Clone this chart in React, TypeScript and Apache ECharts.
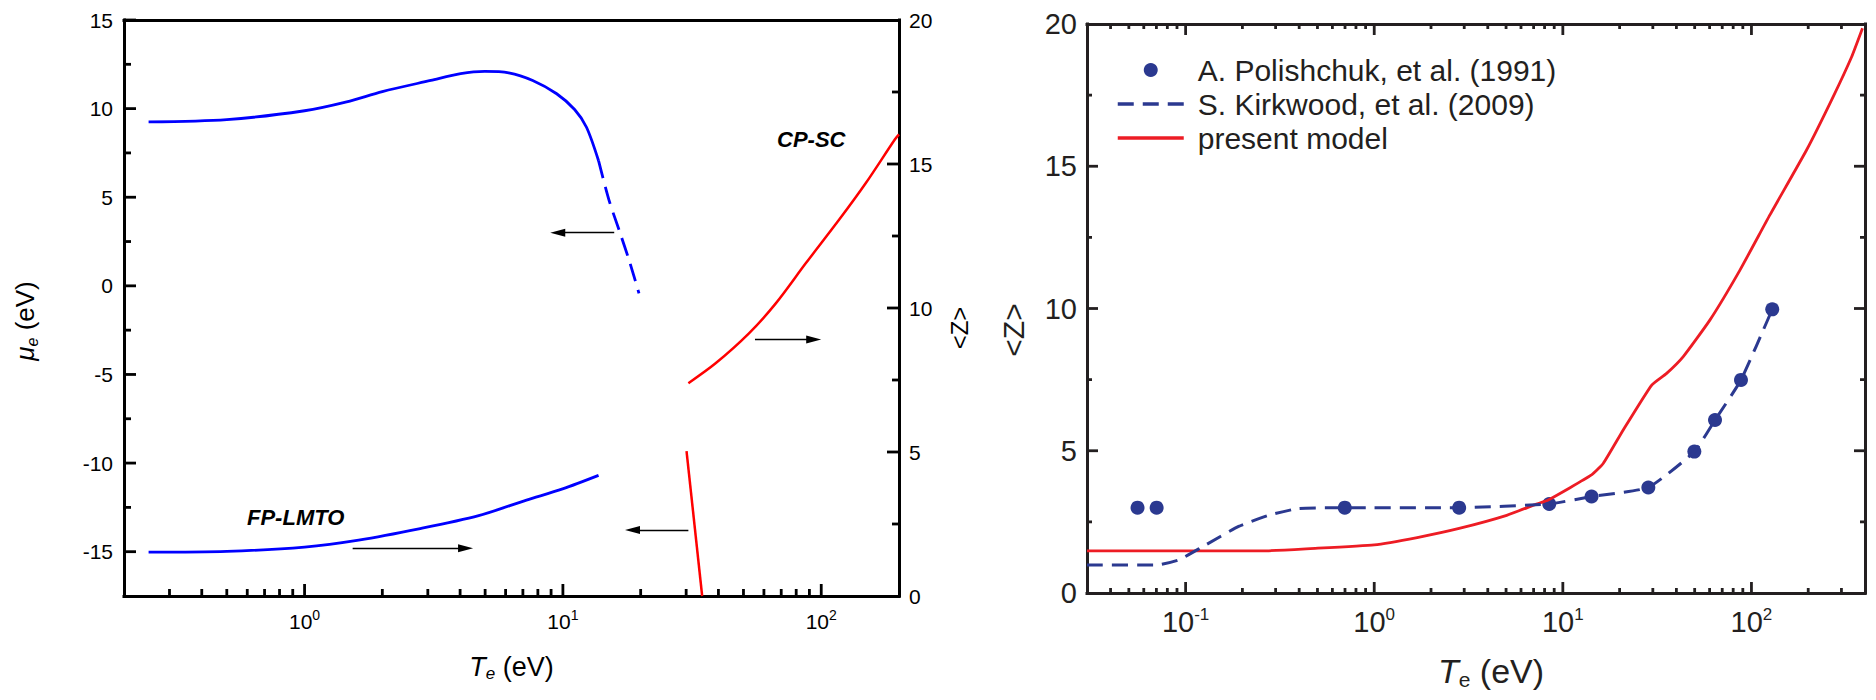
import React, { useEffect, useRef } from 'react';
import * as echarts from 'echarts';

// ---------------- Left panel: mu_e (left axis) and <Z> (right axis) vs T_e ----------------
const muFpT = [0.249, 0.5, 1.0, 1.455, 2.0, 3.08, 4.02, 4.98, 6.17, 7.64, 9.46, 11.1, 12.34, 13.74];
const muFp = [9.25, 9.38, 9.88, 10.38, 10.96, 11.59, 11.97, 12.1, 12.02, 11.59, 10.84, 9.95, 8.95, 7.06];
const muFpDashT = [13.74, 15.08, 16.5, 18.03, 19.7];
const muFpDash = [7.06, 4.84, 3.15, 1.46, -0.42];
const zFpT = [0.249, 0.5, 1.0, 1.62, 2.77, 4.72, 7.23, 9.97, 13.74];
const zFp = [1.52, 1.55, 1.7, 1.94, 2.33, 2.79, 3.33, 3.72, 4.19];
const zCpT = [30.6, 39.0, 52.5, 66.7, 87.1, 117.2, 148.6, 193, 200];
const zCp = [7.39, 8.08, 9.12, 10.16, 11.55, 13.06, 14.33, 15.86, 16.03];
const muCpT = [30.1, 34.6];
const muCp = [-9.32, -17.5];

// arrows: [tail T, head T, level]
const arrowMuFp = [15.8, 9.55, 3.0];
const arrowZCp = [55.4, 93.5, 8.91];
const arrowMuCp = [30.6, 18.6, -13.78];
const arrowZFp = [1.535, 4.2, 1.66];

// ---------------- Right panel: <Z> vs T_e ----------------
const polT = [0.0556, 0.0702, 0.698, 2.82, 8.47, 14.2, 28.4, 49.8, 64.1, 88, 128.9];
const polZ = [3.0, 3.0, 3.0, 3.0, 3.13, 3.39, 3.71, 4.97, 6.08, 7.49, 9.97];
const kirT = [0.03, 0.0702, 0.0925, 0.124, 0.191, 0.275, 0.396, 0.698, 2.82, 8.47, 14.2, 28.4, 49.8, 64.1, 88, 128.9];
const kirZ = [0.98, 0.98, 1.17, 1.64, 2.34, 2.73, 2.97, 3.0, 3.0, 3.13, 3.39, 3.71, 4.97, 6.08, 7.49, 9.97];
const modelT = [0.03, 0.256, 0.458, 1.0, 1.69, 2.82, 5.04, 7.24, 8.37, 14.2, 16.4, 20.9, 29.6, 35.5, 43.5, 60.3, 86.9, 125.3, 196, 271, 340, 388];
const modelZ = [1.48, 1.48, 1.56, 1.69, 1.95, 2.27, 2.73, 3.125, 3.27, 4.15, 4.56, 5.73, 7.31, 7.72, 8.31, 9.6, 11.35, 13.29, 15.57, 17.44, 18.85, 19.85];

const legendNames = ['A. Polishchuk, et al. (1991)', 'S. Kirkwood, et al. (2009)', 'present model'];

// ---------------- axis ranges & ticks ----------------
const leftRangeT = [0.2, 200];
const rightRangeT = [0.03, 400];
const muRange = [-17.5, 15];
const zRange = [0, 20];
const leftMajorT = [1, 10, 100];
const leftMinorT = [0.3, 0.4, 0.5, 0.6, 0.7, 0.8, 0.9, 2, 3, 4, 5, 6, 7, 8, 9, 20, 30, 40, 50, 60, 70, 80, 90];
const rightMajorT = [0.1, 1, 10, 100];
const rightMinorT = [0.04, 0.05, 0.06, 0.07, 0.08, 0.09, 0.2, 0.3, 0.4, 0.5, 0.6, 0.7, 0.8, 0.9, 2, 3, 4, 5, 6, 7, 8, 9, 20, 30, 40, 50, 60, 70, 80, 90, 200, 300];
const muMajor = [-15, -10, -5, 0, 5, 10, 15];
const muMinor = [-12.5, -7.5, -2.5, 2.5, 7.5, 12.5];
const zLabels = [0, 5, 10, 15, 20];
const zMajor = [5, 10, 15];
const zMinor = [2.5, 7.5, 12.5, 17.5];

const GRID_L = { left: 124, top: 20, width: 775, height: 576 };
const GRID_R = { left: 1087, top: 24, width: 778, height: 569 };

const FONT = '"Liberation Sans", Arial, Helvetica, sans-serif';
const INK_L = '#000000';
const INK_R = '#231f20';
const BLUE = '#0000ff';
const RED_L = '#ff0000';
const NAVY = '#2b3990';
const RED_R = '#ed1c24';

const lg = (v: number) => Math.log10(v);
const zip = (xs: number[], ys: number[]) => xs.map((x, i) => [x, ys[i]]);

function supLabel(size: number, supSize: number, lh: number, supLh: number, color: string) {
  return {
    formatter: (v: number) => `{b|10}{s|${Math.round(v)}}`,
    rich: {
      b: { fontSize: size, lineHeight: lh, fontFamily: FONT, color },
      s: { fontSize: supSize, lineHeight: supLh, verticalAlign: 'top', fontFamily: FONT, color },
    },
  };
}

function mkAxis(o: any) {
  const a: any = {
    type: 'value',
    gridIndex: o.grid,
    position: o.position,
    min: o.min,
    max: o.max,
    splitLine: { show: false },
    axisPointer: { show: false },
    axisLine: { show: !!o.line, onZero: false, lineStyle: { color: o.color, width: 3, cap: 'square' } },
    axisTick: { show: false },
    axisLabel: o.labels ? { show: true, customValues: o.labels, ...o.labelCfg } : { show: false },
  };
  if (o.name) {
    a.name = o.name;
    a.nameLocation = 'middle';
    Object.assign(a, o.nameCfg);
  }
  return a;
}

function arrow(a: number[]) {
  return {
    silent: true,
    animation: false,
    symbol: ['none', 'triangle'],
    symbolSize: [8, 15],
    label: { show: false },
    emphasis: { disabled: true },
    lineStyle: { color: '#000', width: 1.3, type: 'solid' },
    data: [[{ coord: [a[0], a[2]] }, { coord: [a[1], a[2]] }]],
  };
}

const textGraphics = [
  {
    id: 'cpsc', type: 'text', x: 777, y: 139.5, silent: true,
    style: { text: 'CP-SC', font: `italic bold 22px ${FONT}`, fill: '#000', textAlign: 'left', textVerticalAlign: 'middle', verticalAlign: 'middle' },
  },
  {
    id: 'fplmto', type: 'text', x: 247, y: 517.5, silent: true,
    style: { text: 'FP-LMTO', font: `italic bold 22px ${FONT}`, fill: '#000', textAlign: 'left', textVerticalAlign: 'middle', verticalAlign: 'middle' },
  },
];

function buildOption() {
  const lxMin = lg(leftRangeT[0]);
  const lxMax = lg(leftRangeT[1]);
  const rxMin = lg(rightRangeT[0]);
  const rxMax = lg(rightRangeT[1]);

  const xAxis = [
    { type: 'log', gridIndex: 0, min: leftRangeT[0], max: leftRangeT[1], logBase: 10, show: false, position: 'bottom', splitLine: { show: false } },
    mkAxis({
      grid: 0, position: 'bottom', min: lxMin, max: lxMax, line: true, color: INK_L,
      labels: leftMajorT.map(lg),
      labelCfg: { margin: 12, ...supLabel(21, 14, 26, 14, INK_L) },
      name: '{i|T}{sub|e}{n| (eV)}',
      nameCfg: {
        nameGap: 56,
        nameTextStyle: {
          fontFamily: FONT, color: INK_L,
          rich: {
            i: { fontSize: 27, fontStyle: 'italic', lineHeight: 30, fontFamily: FONT, color: INK_L },
            sub: { fontSize: 17, fontStyle: 'italic', lineHeight: 9, verticalAlign: 'bottom', fontFamily: FONT, color: INK_L },
            n: { fontSize: 27, lineHeight: 30, fontFamily: FONT, color: INK_L },
          },
        },
      },
    }),
    mkAxis({ grid: 0, position: 'top', min: lxMin, max: lxMax, line: true, color: INK_L }),
    { type: 'log', gridIndex: 1, min: rightRangeT[0], max: rightRangeT[1], logBase: 10, show: false, position: 'bottom', splitLine: { show: false } },
    mkAxis({
      grid: 1, position: 'bottom', min: rxMin, max: rxMax, line: true, color: INK_R,
      labels: rightMajorT.map(lg),
      labelCfg: { margin: 13, ...supLabel(29, 17, 32, 14, INK_R) },
      name: '{pad| }{i|T}{sub|e}{n| (eV)}',
      nameCfg: {
        nameGap: 59,
        nameTextStyle: {
          fontFamily: FONT, color: INK_R,
          rich: {
            pad: { width: 30, fontSize: 34, lineHeight: 38 },
            i: { fontSize: 34, fontStyle: 'italic', lineHeight: 38, fontFamily: FONT, color: INK_R },
            sub: { fontSize: 21, lineHeight: 4, verticalAlign: 'bottom', fontFamily: FONT, color: INK_R },
            n: { fontSize: 34, lineHeight: 38, fontFamily: FONT, color: INK_R },
          },
        },
      },
    }),
    mkAxis({ grid: 1, position: 'top', min: rxMin, max: rxMax, line: true, color: INK_R }),
  ];

  const yAxis = [
    mkAxis({
      grid: 0, position: 'left', min: muRange[0], max: muRange[1], line: true, color: INK_L,
      labels: muMajor,
      labelCfg: { margin: 11, fontSize: 21, fontFamily: FONT, color: INK_L },
      name: '{i|μ}{sub|e}{n| (eV)}{pad| }',
      nameCfg: {
        nameGap: 84,
        nameTextStyle: {
          fontFamily: FONT, color: INK_L,
          rich: {
            i: { fontSize: 26, fontStyle: 'italic', lineHeight: 30, fontFamily: FONT, color: INK_L },
            sub: { fontSize: 16, fontStyle: 'italic', lineHeight: 10, verticalAlign: 'bottom', fontFamily: FONT, color: INK_L },
            n: { fontSize: 26, lineHeight: 30, fontFamily: FONT, color: INK_L },
            pad: { width: 26, fontSize: 26, lineHeight: 30 },
          },
        },
      },
    }),
    mkAxis({
      grid: 0, position: 'right', min: zRange[0], max: zRange[1], line: true, color: INK_L,
      labels: zLabels,
      labelCfg: { margin: 10, fontSize: 21, fontFamily: FONT, color: INK_L },
      name: '<Z>',
      nameCfg: {
        nameGap: 46,
        nameTextStyle: { fontSize: 24, lineHeight: 28, fontFamily: FONT, color: INK_L, padding: [0, 40, 0, 0] },
      },
    }),
    mkAxis({
      grid: 1, position: 'left', min: zRange[0], max: zRange[1], line: true, color: INK_R,
      labels: zLabels,
      labelCfg: { margin: 10, fontSize: 29, fontFamily: FONT, color: INK_R },
      name: '<Z>',
      nameCfg: {
        nameGap: 57,
        nameTextStyle: { fontSize: 30, lineHeight: 34, fontFamily: FONT, color: INK_R, padding: [0, 43, 0, 0] },
      },
    }),
    mkAxis({ grid: 1, position: 'right', min: zRange[0], max: zRange[1], line: true, color: INK_R }),
  ];

  const series: any[] = [
    {
      type: 'line', name: 'mu FP-LMTO', xAxisIndex: 0, yAxisIndex: 0, data: zip(muFpT, muFp),
      symbol: 'none', smooth: 0.3, lineStyle: { color: BLUE, width: 2.8 }, markLine: arrow(arrowMuFp),
    },
    {
      type: 'line', name: 'mu FP-LMTO (dashed)', xAxisIndex: 0, yAxisIndex: 0, data: zip(muFpDashT, muFpDash),
      symbol: 'none', smooth: 0.3, lineStyle: { color: BLUE, width: 2.8, type: [18, 9] },
    },
    {
      type: 'line', name: 'Z FP-LMTO', xAxisIndex: 0, yAxisIndex: 1, data: zip(zFpT, zFp),
      symbol: 'none', smooth: 0.3, lineStyle: { color: BLUE, width: 2.8 }, markLine: arrow(arrowZFp),
    },
    {
      type: 'line', name: 'Z CP-SC', xAxisIndex: 0, yAxisIndex: 1, data: zip(zCpT, zCp),
      symbol: 'none', smooth: 0.3, lineStyle: { color: RED_L, width: 2.5 }, markLine: arrow(arrowZCp),
    },
    {
      type: 'line', name: 'mu CP-SC', xAxisIndex: 0, yAxisIndex: 0, data: zip(muCpT, muCp),
      symbol: 'none', lineStyle: { color: RED_L, width: 2.5 }, markLine: arrow(arrowMuCp),
    },
    {
      type: 'line', name: legendNames[2], xAxisIndex: 3, yAxisIndex: 2, data: zip(modelT, modelZ),
      symbol: 'none', showSymbol: false, smooth: 0.15, lineStyle: { color: RED_R, width: 2.8 }, itemStyle: { color: RED_R },
    },
    {
      type: 'line', name: legendNames[1], xAxisIndex: 3, yAxisIndex: 2, data: zip(kirT, kirZ),
      symbol: 'none', showSymbol: false, smooth: 0.15, lineStyle: { color: NAVY, width: 3, type: [16, 9] }, itemStyle: { color: NAVY },
    },
    {
      type: 'scatter', name: legendNames[0], xAxisIndex: 3, yAxisIndex: 2, data: zip(polT, polZ),
      symbol: 'circle', symbolSize: 14, itemStyle: { color: NAVY, opacity: 1 },
    },
  ];

  return {
    animation: false,
    backgroundColor: '#ffffff',
    textStyle: { fontFamily: FONT },
    grid: [
      { ...GRID_L, outerBoundsMode: 'none', containLabel: false },
      { ...GRID_R, outerBoundsMode: 'none', containLabel: false },
    ],
    xAxis,
    yAxis,
    legend: {
      orient: 'vertical', left: 1116, top: 53, padding: 0, itemWidth: 66, itemHeight: 14, itemGap: 0,
      selectedMode: false,
      textStyle: { fontSize: 30, lineHeight: 34, color: INK_R, fontFamily: FONT, padding: [0, 0, 0, 9] },
      data: [
        { name: legendNames[0], itemStyle: { opacity: 1 } },
        { name: legendNames[1], lineStyle: { width: 3.5 }, itemStyle: { opacity: 0 } },
        { name: legendNames[2], lineStyle: { width: 3.5 }, itemStyle: { opacity: 0 } },
      ],
    },
    graphic: textGraphics,
    series,
  };
}

// Tick marks as thin filled rectangles; positions come from the chart's own scales (convertToPixel)
function buildTicks(chart: any) {
  const out: any[] = [];
  let n = 0;
  const W = 2.8;
  const add = (xIdx: number, yIdx: number, pt: number[], dx: number, dy: number, color: string) => {
    const p = chart.convertToPixel({ xAxisIndex: xIdx, yAxisIndex: yIdx }, pt);
    if (!p || !isFinite(p[0]) || !isFinite(p[1])) return;
    let shape;
    if (dx === 0) {
      shape = { x: p[0] - W / 2, y: Math.min(p[1], p[1] + dy), width: W, height: Math.abs(dy) };
    } else {
      shape = { x: Math.min(p[0], p[0] + dx), y: p[1] - W / 2, width: Math.abs(dx), height: W };
    }
    out.push({ id: 'tick' + n++, type: 'rect', silent: true, z: 50, shape, style: { fill: color } });
  };
  // left panel
  leftMajorT.forEach((t) => add(0, 0, [t, muRange[0]], 0, -12, INK_L));
  leftMinorT.forEach((t) => add(0, 0, [t, muRange[0]], 0, -7, INK_L));
  muMajor.forEach((v) => add(0, 0, [leftRangeT[0], v], 12, 0, INK_L));
  muMinor.forEach((v) => add(0, 0, [leftRangeT[0], v], 7, 0, INK_L));
  zMajor.forEach((v) => add(0, 1, [leftRangeT[1], v], -12, 0, INK_L));
  zMinor.forEach((v) => add(0, 1, [leftRangeT[1], v], -7, 0, INK_L));
  // right panel
  rightMajorT.forEach((t) => add(3, 2, [t, zRange[0]], 0, -11, INK_R));
  rightMinorT.forEach((t) => add(3, 2, [t, zRange[0]], 0, -5, INK_R));
  rightMajorT.forEach((t) => add(3, 2, [t, zRange[1]], 0, 11, INK_R));
  rightMinorT.forEach((t) => add(3, 2, [t, zRange[1]], 0, 5, INK_R));
  zMajor.forEach((v) => add(3, 2, [rightRangeT[0], v], 11, 0, INK_R));
  zMinor.forEach((v) => add(3, 2, [rightRangeT[0], v], 5, 0, INK_R));
  zMajor.forEach((v) => add(3, 2, [rightRangeT[1], v], -11, 0, INK_R));
  zMinor.forEach((v) => add(3, 2, [rightRangeT[1], v], -5, 0, INK_R));
  return out;
}

export default function App() {
  const ref = useRef<HTMLDivElement>(null);
  useEffect(() => {
    document.body.style.margin = '0';
    const chart = echarts.init(ref.current as HTMLDivElement, null, { renderer: 'svg' });
    chart.setOption(buildOption() as any);
    const ticks = buildTicks(chart);
    chart.setOption({ graphic: [...textGraphics, ...ticks] } as any);
    return () => chart.dispose();
  }, []);
  return <div ref={ref} style={{ width: 1876, height: 700, background: '#ffffff' }} />;
}
